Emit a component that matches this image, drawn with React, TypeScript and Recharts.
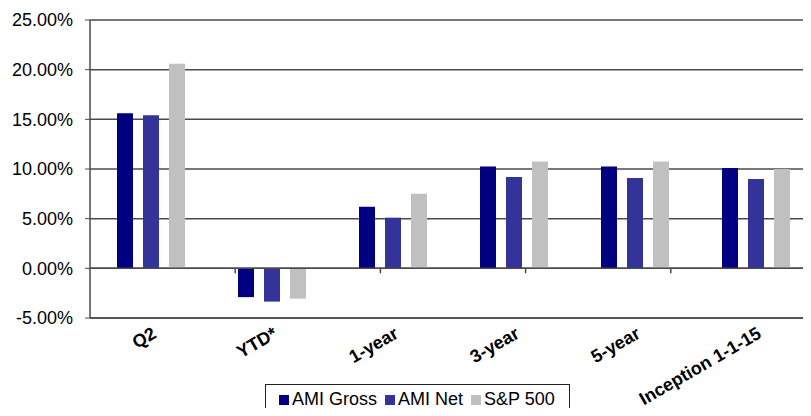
import React from 'react';
import { BarChart, Bar, XAxis, YAxis, CartesianGrid, ReferenceLine, Legend } from 'recharts';

const categories = ['Q2', 'YTD*', '1-year', '3-year', '5-year', 'Inception 1-1-15'];
const amiGross = [15.6, -2.9, 6.2, 10.25, 10.25, 10.1];
const amiNet = [15.4, -3.35, 5.1, 9.2, 9.1, 9.0];
const sp500 = [20.6, -3.05, 7.5, 10.75, 10.75, 10.0];
const yTicks = [-5, 0, 5, 10, 15, 20, 25];
const boundaries = [1, 2, 3, 4, 5];

const seriesInfo = [
    { key: 'gross', name: 'AMI Gross', color: '#000080' },
    { key: 'net', name: 'AMI Net', color: '#333399' },
    { key: 'sp', name: 'S&P 500', color: '#C0C0C0' },
];

const data = categories.map((name, i) => ({
    name,
    gross: amiGross[i],
    net: amiNet[i],
    sp: sp500[i],
}));

const font = '"Liberation Sans", Arial, sans-serif';
const lineColor = '#4a4a4a';

const CategoryTick = (props: any) => {
    const { x, y, payload } = props;
    return (
        <g transform={`translate(${x + 7},${y + 11})`}>
            <text
                textAnchor="end"
                transform="rotate(-30)"
                style={{ fontFamily: font, fontSize: 18, fontWeight: 'bold', fill: '#000' }}
            >
                {payload.value}
            </text>
        </g>
    );
};

const LegendBox = () => (
    <div
        style={{
            display: 'flex',
            alignItems: 'center',
            border: '1px solid #222',
            background: '#fff',
            padding: '4px 6px 6px 13px',
            fontFamily: font,
            fontSize: 18,
            color: '#000',
            whiteSpace: 'nowrap',
        }}
    >
        {seriesInfo.map((s) => (
            <span key={s.key} style={{ display: 'flex', alignItems: 'center', marginRight: 8 }}>
                <span style={{ width: 10, height: 10, background: s.color, marginRight: 3, display: 'inline-block' }} />
                {s.name}
            </span>
        ))}
    </div>
);

const App: React.FC = () => {
    return (
        <div style={{ margin: -8, width: 811, height: 416, overflow: 'hidden', background: '#fff', position: 'relative' }}>
            <BarChart
                width={830}
                height={416}
                data={data}
                margin={{ top: 20, right: 14, left: 0, bottom: 5 }}
                barSize={16}
                barGap={10}
            >
                <CartesianGrid vertical={false} stroke={lineColor} strokeWidth={1.5} xAxisId="cat" />
                <XAxis
                    xAxisId="cat"
                    dataKey="name"
                    interval={0}
                    height={60}
                    tickLine={false}
                    axisLine={{ stroke: lineColor, strokeWidth: 1.5 }}
                    tick={<CategoryTick />}
                />
                <XAxis xAxisId="num" type="number" domain={[0, 6]} hide />
                <YAxis
                    width={90}
                    domain={[-5, 25]}
                    ticks={yTicks}
                    interval={0}
                    tickFormatter={(v: number) => `${v.toFixed(2)}%`}
                    tickSize={5}
                    tickMargin={12}
                    tickLine={{ stroke: lineColor }}
                    axisLine={{ stroke: lineColor, strokeWidth: 1.5 }}
                    tick={{ fontFamily: font, fontSize: 18, fill: '#000' }}
                />
                <ReferenceLine xAxisId="cat" y={0} stroke={lineColor} strokeWidth={1.5} />
                {boundaries.map((b) => (
                    <ReferenceLine
                        key={b}
                        xAxisId="num"
                        segment={[{ x: b, y: 0 }, { x: b, y: -0.5 }]}
                        stroke={lineColor}
                        strokeWidth={1.5}
                        ifOverflow="visible"
                    />
                ))}
                {seriesInfo.map((s) => (
                    <Bar
                        key={s.key}
                        xAxisId="cat"
                        dataKey={s.key}
                        name={s.name}
                        fill={s.color}
                        isAnimationActive={false}
                    />
                ))}
                <Legend
                    content={<LegendBox />}
                    wrapperStyle={{ position: 'absolute', left: 265, top: 384, width: 'auto' }}
                />
            </BarChart>
        </div>
    );
};

export default App;
